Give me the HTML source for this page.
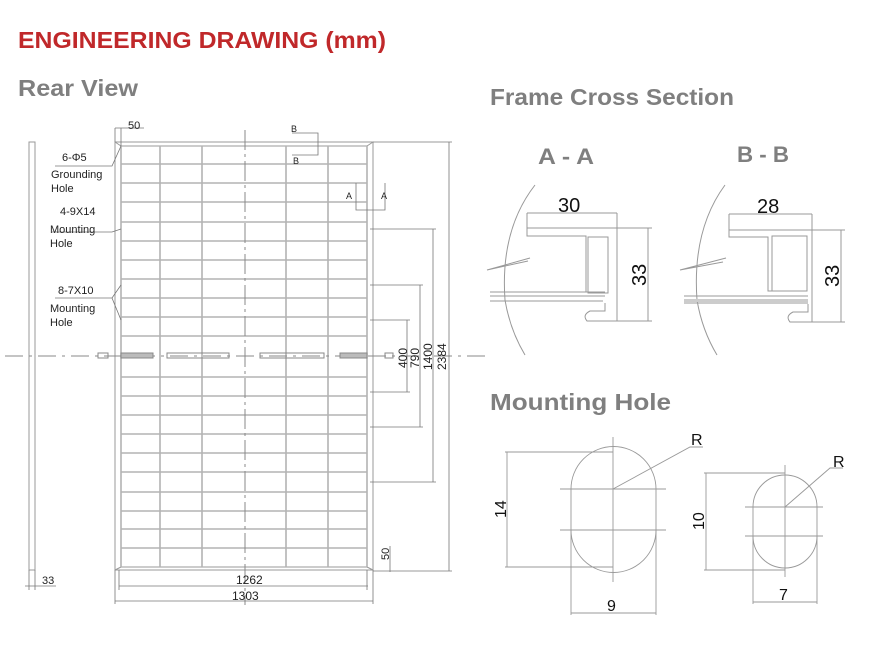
<!DOCTYPE html>
<html><head><meta charset="utf-8"><style>
html,body{margin:0;padding:0;background:#fff;}
svg{display:block;font-family:"Liberation Sans",sans-serif;}
</style></head><body>
<svg width="874" height="654" viewBox="0 0 874 654" xmlns="http://www.w3.org/2000/svg">
<!-- headings -->
<text x="18" y="48" font-size="23" font-weight="bold" fill="#c0282a" textLength="368" lengthAdjust="spacingAndGlyphs">ENGINEERING DRAWING (mm)</text>
<text x="18" y="96" font-size="23" font-weight="bold" fill="#7f7f7f" textLength="120" lengthAdjust="spacingAndGlyphs">Rear View</text>
<text x="490" y="105" font-size="23" font-weight="bold" fill="#7f7f7f" textLength="244" lengthAdjust="spacingAndGlyphs">Frame Cross Section</text>
<text x="538" y="164" font-size="22" font-weight="bold" fill="#7f7f7f" textLength="56" lengthAdjust="spacingAndGlyphs">A - A</text>
<text x="737" y="162" font-size="22" font-weight="bold" fill="#7f7f7f" textLength="52" lengthAdjust="spacingAndGlyphs">B - B</text>
<text x="490" y="410" font-size="23" font-weight="bold" fill="#7f7f7f" textLength="181" lengthAdjust="spacingAndGlyphs">Mounting Hole</text>

<g stroke="#999" stroke-width="1" fill="none">
<!-- side view -->
<rect x="29" y="142" width="6" height="428"/>
<!-- panel outer -->
<rect x="115" y="142" width="258" height="428"/>
<line x1="121" y1="146" x2="367" y2="146"/>
<line x1="121" y1="567" x2="367" y2="567"/>
<line x1="115" y1="142" x2="121" y2="146"/><line x1="373" y1="142" x2="367" y2="146"/>
<line x1="115" y1="570" x2="121" y2="567"/><line x1="373" y1="570" x2="367" y2="567"/>
</g>
<g stroke="#b3b3b3" stroke-width="1.6" fill="none">
<line x1="121" y1="146" x2="121" y2="567"/>
<line x1="160" y1="146" x2="160" y2="567"/>
<line x1="202" y1="146" x2="202" y2="567"/>
<line x1="286" y1="146" x2="286" y2="567"/>
<line x1="328" y1="146" x2="328" y2="567"/>
<line x1="367" y1="146" x2="367" y2="567"/>
<path d="M121 164H367M121 183H367M121 202H367M121 222H367M121 241H367M121 260H367M121 279H367M121 298H367M121 317H367M121 336H367M121 377H367M121 396H367M121 415H367M121 434H367M121 453H367M121 472H367M121 492H367M121 511H367M121 529H367M121 548H367"/>
</g>
<!-- junction boxes / centerline -->
<g stroke="#888" stroke-width="1" fill="none">
<line x1="5" y1="356" x2="490" y2="356" stroke-dasharray="18,6,3,6"/>
<line x1="245" y1="130" x2="245" y2="605" stroke-dasharray="20,4,3,4"/>
<rect x="121" y="353" width="32" height="5" fill="#bbb"/>
<rect x="167" y="353" width="62" height="5"/>
<rect x="260" y="353" width="64" height="5"/>
<rect x="340" y="353" width="27" height="5" fill="#bbb"/>
<rect x="98" y="353" width="10" height="5"/>
<rect x="385" y="353" width="8" height="5"/>
</g>
<!-- dimension lines -->
<g stroke="#777" stroke-width="0.8" fill="none">
<line x1="373" y1="142" x2="452" y2="142"/>
<line x1="373" y1="571" x2="452" y2="571"/>
<line x1="449" y1="142" x2="449" y2="571"/>
<line x1="370" y1="229" x2="436" y2="229"/><line x1="370" y1="482" x2="436" y2="482"/><line x1="433" y1="229" x2="433" y2="482"/>
<line x1="370" y1="285" x2="423" y2="285"/><line x1="370" y1="427" x2="423" y2="427"/><line x1="420" y1="285" x2="420" y2="427"/>
<line x1="370" y1="320" x2="410" y2="320"/><line x1="370" y1="392" x2="410" y2="392"/><line x1="407" y1="320" x2="407" y2="392"/>
<line x1="119" y1="570" x2="119" y2="590"/><line x1="367" y1="570" x2="367" y2="590"/>
<line x1="119" y1="586" x2="368" y2="586"/>
<line x1="115" y1="570" x2="115" y2="604"/><line x1="373" y1="570" x2="373" y2="604"/>
<line x1="115" y1="601" x2="373" y2="601"/>
<line x1="390" y1="546" x2="390" y2="572"/>
<line x1="25" y1="586" x2="56" y2="586"/><line x1="29" y1="570" x2="29" y2="590"/><line x1="35" y1="570" x2="35" y2="590"/>
<line x1="115" y1="128" x2="144" y2="128"/><line x1="115" y1="128" x2="115" y2="142"/><line x1="121" y1="128" x2="121" y2="146"/>
<!-- leaders -->
<path d="M55 166H112L121 146M52 232H112L121 229M55 298H112L121 285M112 298L121 320"/>
<!-- section marks -->
<path d="M292 133H318V155H292M356 183V210H385V183"/>
</g>
<g font-size="11" fill="#222">
<text x="128" y="129">50</text>
<text x="291" y="132" font-size="9">B</text>
<text x="293" y="164" font-size="9">B</text>
<text x="346" y="199" font-size="9">A</text>
<text x="381" y="199" font-size="9">A</text>
<text x="62" y="161">6-Φ5</text>
<text x="51" y="178">Grounding</text>
<text x="51" y="192">Hole</text>
<text x="60" y="215">4-9X14</text>
<text x="50" y="233">Mounting</text>
<text x="50" y="247">Hole</text>
<text x="58" y="294">8-7X10</text>
<text x="50" y="312">Mounting</text>
<text x="50" y="326">Hole</text>
<text x="236" y="584" font-size="12">1262</text>
<text x="232" y="600" font-size="12">1303</text>
<text x="42" y="584">33</text>
<text transform="translate(389,560) rotate(-90)" font-size="11">50</text>
<text transform="translate(407,368) rotate(-90)" font-size="12">400</text>
<text transform="translate(419,368) rotate(-90)" font-size="12">790</text>
<text transform="translate(432,370) rotate(-90)" font-size="12">1400</text>
<text transform="translate(446,370) rotate(-90)" font-size="12">2384</text>
</g>

<!-- cross sections -->
<g stroke="#999" stroke-width="1" fill="none">
<path d="M535 185 Q500 230 505 300 Q510 330 525 355"/>
<path d="M725 185 Q692 230 697 300 Q702 330 717 355"/>
<path d="M487 270 L530 258 M487 270 L528 261"/>
<path d="M680 270 L726 258 M680 270 L723 262"/>
<!-- A-A profile -->
<path d="M527 228 H617 V321 H587 Q582 315 590 311 H605 V303"/>
<path d="M527 228 V236 H586 V292 H596"/>
<rect x="588" y="237" width="20" height="56"/>
<path d="M490 292 H605 M490 296 H605 M490 301 H603"/>
<line x1="527" y1="213" x2="617" y2="213"/><line x1="527" y1="213" x2="527" y2="228"/><line x1="617" y1="213" x2="617" y2="228"/>
<line x1="617" y1="228" x2="652" y2="228"/><line x1="617" y1="321" x2="652" y2="321"/><line x1="648" y1="228" x2="648" y2="321"/>
<!-- B-B profile -->
<path d="M729 230 H812 V322 H790 Q785 316 793 312 H808 V304"/>
<path d="M729 230 V237 H768 V291 H772"/>
<rect x="772" y="236" width="35" height="55"/>
<path d="M684 296 H808 M684 303 H808"/>
<line x1="729" y1="214" x2="812" y2="214"/><line x1="729" y1="214" x2="729" y2="230"/><line x1="812" y1="214" x2="812" y2="230"/>
<line x1="812" y1="230" x2="845" y2="230"/><line x1="812" y1="322" x2="845" y2="322"/><line x1="841" y1="230" x2="841" y2="322"/>
</g>
<rect x="684" y="299" width="124" height="3" fill="#ccc"/>
<g font-size="20" fill="#111">
<text x="558" y="212">30</text>
<text x="757" y="213">28</text>
<text transform="translate(646,286) rotate(-90)">33</text>
<text transform="translate(839,287) rotate(-90)">33</text>
</g>

<!-- mounting holes -->
<g stroke="#999" stroke-width="0.9" fill="none">
<path d="M571 489 A42.5 42.5 0 0 1 656 489 V530 A42.5 42.5 0 0 1 571 530 Z"/>
<line x1="613" y1="437" x2="613" y2="582"/>
<line x1="560" y1="489" x2="666" y2="489"/><line x1="560" y1="530" x2="666" y2="530"/>
<path d="M613 489 L690 447 H703"/>
<line x1="505" y1="452" x2="613" y2="452"/><line x1="505" y1="567" x2="613" y2="567"/><line x1="507" y1="452" x2="507" y2="567"/>
<line x1="571" y1="530" x2="571" y2="615"/><line x1="656" y1="530" x2="656" y2="615"/><line x1="571" y1="613" x2="656" y2="613"/>
<path d="M753 507 A32 32 0 0 1 817 507 V536 A32 32 0 0 1 753 536 Z"/>
<line x1="785" y1="465" x2="785" y2="577"/>
<line x1="745" y1="507" x2="823" y2="507"/><line x1="745" y1="536" x2="823" y2="536"/>
<path d="M785 507 L830 468 H843"/>
<line x1="704" y1="473" x2="785" y2="473"/><line x1="704" y1="570" x2="785" y2="570"/><line x1="706" y1="473" x2="706" y2="570"/>
<line x1="753" y1="536" x2="753" y2="604"/><line x1="817" y1="536" x2="817" y2="604"/><line x1="753" y1="602" x2="817" y2="602"/>
</g>
<g font-size="16" fill="#111">
<text x="691" y="445">R</text>
<text x="833" y="467">R</text>
<text x="607" y="611">9</text>
<text x="779" y="600">7</text>
<text transform="translate(506,518) rotate(-90)">14</text>
<text transform="translate(704,530) rotate(-90)">10</text>
</g>
</svg>
</body></html>
